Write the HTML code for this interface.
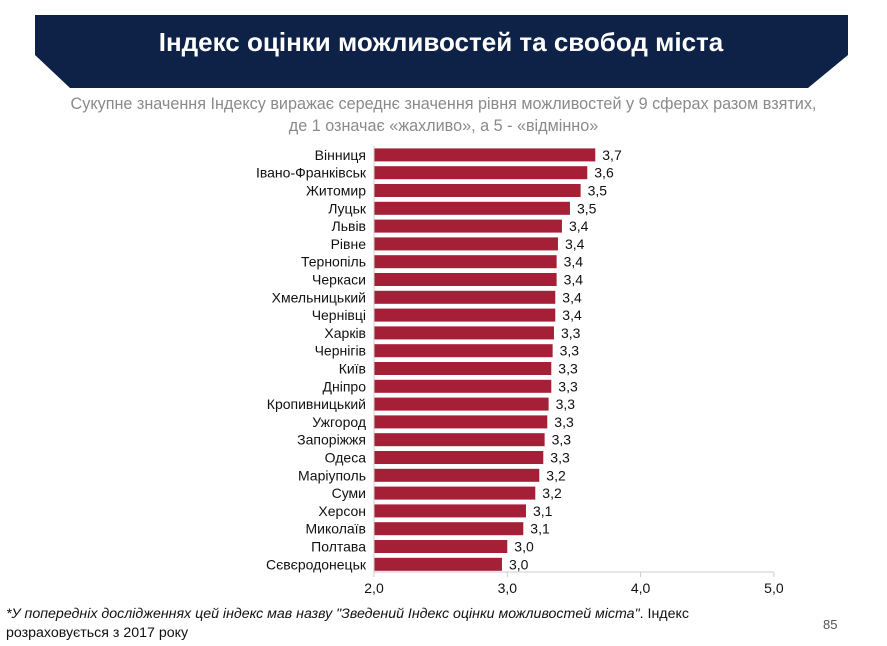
<!DOCTYPE html>
<html><head><meta charset="utf-8"><style>
body{margin:0;width:887px;height:646px;background:#fff;font-family:"Liberation Sans","DejaVu Sans",sans-serif;overflow:hidden;position:relative}
.t{position:absolute}
</style></head><body>
<svg class="t" style="left:0;top:0" width="887" height="100">
<polygon points="35,15 848,15 848,55 808,88 70,88 35,55" fill="#0e2248"/>
<text x="441" y="51" text-anchor="middle" fill="#fff" font-size="26" font-weight="bold" font-family="Liberation Sans, sans-serif">Індекс оцінки можливостей та свобод міста</text>
</svg>
<div class="t" style="left:0;width:887px;top:93px;text-align:center;color:#8a8a8a;font-size:16.2px;line-height:22px">Сукупне значення Індексу виражає середнє значення рівня можливостей у 9 сферах разом взятих,<br>де 1 означає «жахливо», а 5 - «відмінно»</div>
<svg id="chart" class="t" style="left:0;top:140px" width="887" height="470"></svg>
<div class="t" style="left:6px;top:605px;font-size:14.2px;line-height:19px;color:#111"><i>*У попередніх дослідженнях цей індекс мав назву "Зведений Індекс оцінки можливостей міста"</i>. Індекс<br>розраховується з 2017 року</div>
<div class="t" style="left:823px;top:617px;font-size:13px;color:#555">85</div>
<script>
const cities=["Вінниця","Івано-Франківськ","Житомир","Луцьк","Львів","Рівне","Тернопіль","Черкаси","Хмельницький","Чернівці","Харків","Чернігів","Київ","Дніпро","Кропивницький","Ужгород","Запоріжжя","Одеса","Маріуполь","Суми","Херсон","Миколаїв","Полтава","Сєвєродонецьк"];
const values=[3.66,3.60,3.55,3.47,3.41,3.38,3.37,3.37,3.36,3.36,3.35,3.34,3.33,3.33,3.31,3.30,3.28,3.27,3.24,3.21,3.14,3.12,3.00,2.96];
const labels=["3,7","3,6","3,5","3,5","3,4","3,4","3,4","3,4","3,4","3,4","3,3","3,3","3,3","3,3","3,3","3,3","3,3","3,3","3,2","3,2","3,1","3,1","3,0","3,0"];
const ticks=[2,3,4,5];
const tickLabels=["2,0","3,0","4,0","5,0"];
const svg=document.getElementById('chart');
const NS='http://www.w3.org/2000/svg';
const x=v=>374+(v-2)*133.3;
const yTop=6, step=17.8, bh=13, axisY=432;
function mk(t,a){const e=document.createElementNS(NS,t);for(const k in a)e.setAttribute(k,a[k]);svg.appendChild(e);return e;}
cities.forEach((c,i)=>{
 const cy=yTop+i*step+step/2;
 const r=mk('rect',{x:x(2),y:cy-bh/2,width:x(values[i])-x(2),height:bh,fill:'#a51f36'});
 
 
 const l=mk('text',{x:366,y:cy+5,'text-anchor':'end','font-size':'14',fill:'#111'});
 l.textContent=c;
 
 
 const v=mk('text',{x:x(values[i])+7,y:cy+5,'font-size':'14',fill:'#111'});
 v.textContent=labels[i];
 
 
});
const ax=mk('line',{x1:x(2),x2:x(5),y1:axisY,y2:axisY,stroke:'#ccc'});


const ay=mk('line',{x1:x(2),x2:x(2),y1:yTop,y2:axisY,stroke:'#ccc'});


ticks.forEach((t,i)=>{
 const tk=mk('line',{x1:x(t),x2:x(t),y1:axisY,y2:axisY+5,stroke:'#ccc'});
 
 
 const tl=mk('text',{x:x(t),y:axisY+21,'text-anchor':'middle','font-size':'14',fill:'#111'});
 tl.textContent=tickLabels[i];
 
 
});
</script>
</body></html>
